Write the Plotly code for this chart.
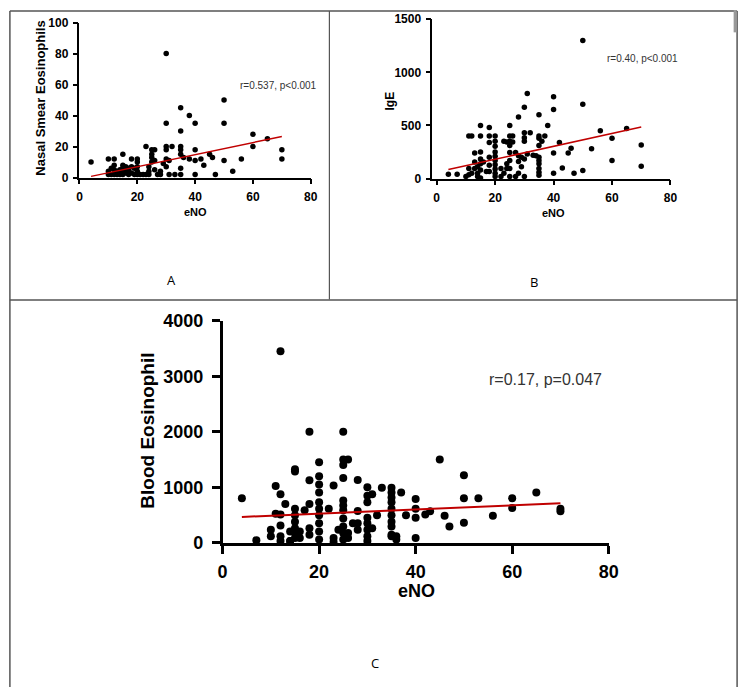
import plotly.graph_objects as go

W, H = 752, 697

# ---------------- Data ----------------
# Panel A: eNO vs Nasal Smear Eosinophils
a_eno = [4, 30, 30, 35, 38, 40, 35, 50, 50, 60, 60, 65, 70, 70, 56, 53, 50, 47, 45, 46,
         43, 42, 40, 40, 40, 38, 36, 35, 35, 35, 35, 35, 32, 31, 33, 30, 30, 30, 30, 31,
         28, 28, 29, 26, 25, 23, 25, 25, 26, 24, 24, 23, 22, 20, 20, 20, 20, 20, 18, 17,
         16, 15, 15, 15, 15, 15, 13, 12, 12, 11, 10, 10, 10, 13, 16, 17, 18, 18, 21, 27,
         25, 26, 24, 12, 11, 14, 19, 19, 17, 16, 14, 12]
a_nasal = [10, 80, 35, 45, 40, 35, 30, 50, 35, 28, 20, 25, 18, 12, 12, 4, 11, 2, 15, 13,
           8, 12, 18, 11, 2, 12, 13, 20, 18, 15, 6, 2, 20, 2, 2, 20, 18, 12, 7, 11,
           4, 2, 9, 18, 18, 20, 13, 10, 11, 7, 4, 2, 2, 12, 7, 4, 2, 10, 12, 6,
           5, 15, 8, 6, 4, 2, 4, 12, 8, 6, 12, 4, 2, 2, 3, 2, 7, 3, 2, 2,
           15, 5, 2, 2, 2, 2, 2, 6, 4, 7, 5, 5]
a_fit = {"slope": 0.39, "intercept": -0.8, "x0": 4, "x1": 70}

# Panel B: eNO vs IgE
b_eno = [50, 50, 50, 31, 30, 28, 32, 35, 40, 40, 38, 37, 35, 36, 35, 35, 35, 35, 35, 34,
         40, 40, 42, 43, 46, 45, 47, 53, 56, 60, 60, 65, 70, 70, 30, 30, 30, 30, 31, 30,
         29, 28, 28, 29, 25, 25, 25, 25, 25, 25, 25, 25, 26, 26, 24, 20, 20, 20, 20, 20,
         20, 20, 20, 20, 20, 18, 18, 18, 18, 18, 18, 15, 15, 15, 15, 15, 15, 15, 16, 17,
         13, 13, 13, 12, 11, 11, 11, 10, 12, 14, 14, 14, 7, 4, 23, 22, 24, 24, 22, 27,
         27, 28, 23, 33, 35, 35, 35]
b_ige = [1300, 700, 75, 800, 670, 580, 430, 600, 770, 650, 500, 400, 400, 350, 310, 200, 140, 95, 30, 215,
         240, 50, 340, 100, 285, 240, 50, 280, 450, 380, 170, 470, 315, 115, 430, 385, 350, 20, 230, 185,
         200, 215, 160, 110, 500, 400, 350, 310, 245, 170, 95, 20, 400, 345, 345, 400, 350, 305, 250, 210,
         170, 130, 90, 50, 20, 480, 400, 340, 200, 125, 65, 500, 400, 250, 185, 140, 80, 5, 155, 65,
         240, 155, 95, 400, 400, 95, 35, 20, 50, 110, 50, 20, 40, 40, 50, 95, 140, 95, 20, 245,
         20, 50, 350, 220, 380, 170, 60]
b_fit = {"slope": 6.05, "intercept": 60.8, "x0": 4, "x1": 70}

# Panel C: eNO vs Blood Eosinophil
c_eno = [4, 7, 12, 12, 11, 11, 12, 13, 12, 10, 10, 12, 12, 14, 15, 15, 15, 15, 15, 15,
         15, 15, 14, 16, 16, 14, 17, 18, 18, 18, 18, 18, 20, 20, 20, 20, 20, 20, 20, 20,
         20, 20, 22, 23, 23, 23, 25, 25, 26, 25, 25, 25, 25, 25, 25, 25, 25, 25, 24, 26,
         26, 28, 28, 28, 28, 27, 30, 30, 30, 30, 30, 30, 30, 30, 31, 31, 32, 33, 35, 35,
         35, 35, 35, 35, 35, 35, 35, 35, 36, 36, 37, 38, 40, 40, 40, 40, 42, 43, 45, 46,
         47, 50, 50, 50, 53, 56, 60, 60, 65, 70, 70]
c_blood = [800, 47, 3450, 876, 1022, 525, 508, 700, 310, 234, 117, 117, 30, 30, 1325, 1285, 613, 496, 380, 263,
           175, 88, 205, 205, 88, 30, 584, 2000, 1127, 700, 263, 146, 1450, 1200, 1050, 905, 730, 613, 496, 350,
           205, 58, 613, 1033, 88, 12, 2000, 1500, 1500, 1400, 1168, 760, 670, 584, 438, 292, 175, 58, 234, 175,
           88, 1130, 572, 350, 234, 350, 1000, 847, 730, 450, 350, 234, 117, 30, 876, 263, 496, 993, 993, 905,
           818, 730, 613, 496, 380, 292, 146, 117, 117, 58, 905, 496, 788, 613, 450, 88, 508, 567, 1500, 485,
           292, 1215, 800, 362, 800, 485, 800, 625, 905, 613, 567]
c_fit = {"slope": 3.73, "intercept": 451, "x0": 4, "x1": 70}

# ------------- helpers -------------
def px(x):
    return x / W

def py(y):
    return 1 - y / H

def fit_line(f):
    xs = [f["x0"], f["x1"]]
    return xs, [f["intercept"] + f["slope"] * v for v in xs]

fig = go.Figure()

RED = "#c00000"
panels = [
    (a_eno, a_nasal, a_fit, "x", "y", 5.5, 1.5),
    (b_eno, b_ige, b_fit, "x2", "y2", 5.5, 1.5),
    (c_eno, c_blood, c_fit, "x3", "y3", 8, 2),
]
for xs, ys, f, xa, ya, ms, lw in panels:
    fig.add_trace(go.Scatter(x=xs, y=ys, mode="markers", xaxis=xa, yaxis=ya,
                             marker=dict(color="black", size=ms, line=dict(width=0)),
                             cliponaxis=False, showlegend=False))
    lx, ly = fit_line(f)
    fig.add_trace(go.Scatter(x=lx, y=ly, mode="lines", xaxis=xa, yaxis=ya,
                             line=dict(color=RED, width=lw), cliponaxis=False,
                             showlegend=False))

small_font = dict(family="Liberation Sans, Arial", size=12, color="black", weight="bold")
big_font = dict(family="Liberation Sans, Arial", size=18, color="black", weight="bold")

def ax(domain, rng, dtick, font, lw, tl, anchor, standoff):
    return dict(domain=domain, range=rng, dtick=dtick, tick0=0, showgrid=False,
                zeroline=False, showline=True, linecolor="black", linewidth=lw,
                ticks="outside", ticklen=tl, tickwidth=lw, tickcolor="black",
                tickfont=font, anchor=anchor, fixedrange=True,
                ticklabelstandoff=standoff)

fig.update_layout(
    width=W, height=H, margin=dict(l=0, r=0, t=0, b=0),
    paper_bgcolor="white", plot_bgcolor="white",
    xaxis=ax([px(76), px(312)], [0, 80], 20, small_font, 1.5, 5, "y", 2),
    yaxis=ax([py(172.5), py(13)], [0, 100], 20, small_font, 1.5, 5, "x", 2),
    xaxis2=ax([px(436), px(679)], [-1.5, 80], 20, small_font, 1.5, 5, "y2", 2),
    yaxis2=ax([py(173.5), py(9.5)], [0, 1500], 500, small_font, 1.5, 5, "x2", 2),
    xaxis3=ax([px(222), px(616)], [0, 80], 20, big_font, 2.5, 8, "y3", 3),
    yaxis3=ax([py(548.5), py(320)], [0, 4000], 1000, big_font, 2.5, 8, "x3", 5),
)

ann = []
def add(text, x, y, size, bold=False, angle=0, color="black", family="Liberation Sans, Arial"):
    ann.append(dict(text=f"<b>{text}</b>" if bold else text, x=px(x), y=py(y),
                    xref="paper", yref="paper", showarrow=False, textangle=angle,
                    xanchor="center", yanchor="middle",
                    font=dict(family=family, size=size, color=color)))

# Panel A
add("Nasal Smear Eosinophils", 36, 91, 13, bold=True, angle=-90)
add("eNO", 194, 208, 11, bold=True)
add("r=0.537, p<0.001", 279, 78, 10, color="#333333")
add("A", 170, 278, 13, family="Open Sans, Liberation Sans")
# Panel B
add("IgE", 393, 94, 12, bold=True, angle=-90)
add("eNO", 560, 209, 11, bold=True)
add("r=0.40, p<0.001", 650, 50, 10, color="#333333")
add("B", 540, 280, 13, family="Open Sans, Liberation Sans")
# Panel C
add("Blood Eosinophil", 145, 433, 19, bold=True, angle=-90)
add("eNO", 420, 598, 18, bold=True)
add("r=0.17, p=0.047", 551, 380, 16, color="#333333")
add("C", 378, 672, 13, family="Open Sans, Liberation Sans")
fig.update_layout(annotations=ann)

# table-like frame
LC = "#555555"
def line(x0, y0, x1, y1, w=1.5, c=LC):
    return dict(type="line", xref="paper", yref="paper", x0=px(x0), y0=py(y0),
                x1=px(x1), y1=py(y1), line=dict(color=c, width=w))

fig.update_layout(shapes=[
    line(5, 1, 747, 1),
    line(5, 1, 5, 697),
    line(747, 1, 747, 697),
    line(331, 1, 331, 298, w=1.2),
    line(5, 298.5, 747, 298.5),
    line(745, 0, 745, 23, w=3, c="#999999"),
])

fig.write_html("out.html")
